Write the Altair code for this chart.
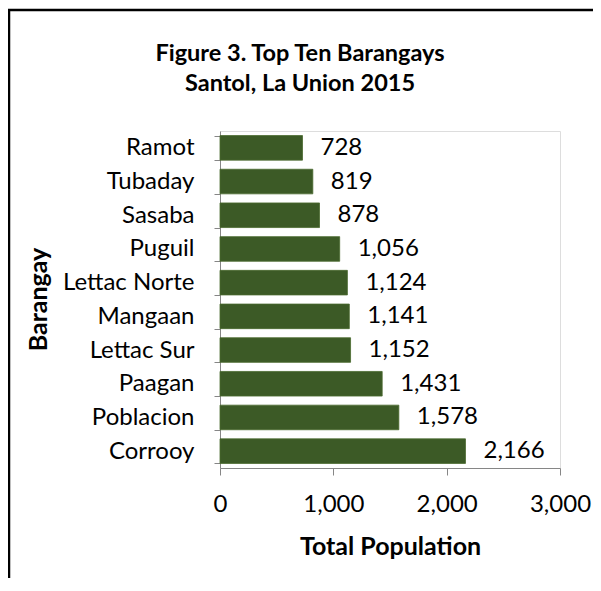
import altair as alt
import pandas as pd

barangays = ["Ramot", "Tubaday", "Sasaba", "Puguil", "Lettac Norte", "Mangaan",
             "Lettac Sur", "Paagan", "Poblacion", "Corrooy"]
population = [728, 819, 878, 1056, 1124, 1141, 1152, 1431, 1578, 2166]
x_ticks = [0, 1000, 2000, 3000]
title_lines = ["Figure 3. Top Ten Barangays", "Santol, La Union 2015"]

df = pd.DataFrame({"Barangay": barangays, "Population": population})

FONT = "Lato"
AXIS_COLOR = "#868686"
FS = 24

base = alt.Chart(df)

y_enc = alt.Y(
    "Barangay:N",
    sort=barangays,
    scale=alt.Scale(paddingInner=0.27, paddingOuter=0.135),
    axis=alt.Axis(
        title="Barangay",
        titleFont=FONT,
        titleFontSize=25,
        titleFontWeight="bold",
        titleColor="black",
        titleAngle=-90,
        titleX=-182,
        titleY=168,
        titleAlign="center",
        titleBaseline="middle",
        labelFont=FONT,
        labelFontSize=FS,
        labelColor="black",
        labelPadding=20,
        tickBand="extent",
        tickSize=6,
        tickColor=AXIS_COLOR,
        domainColor=AXIS_COLOR,
    ),
)

x_enc = alt.X(
    "Population:Q",
    scale=alt.Scale(domain=[0, 3000], nice=False),
    axis=alt.Axis(
        title="Total Population",
        titleFont=FONT,
        titleFontSize=25,
        titleFontWeight="bold",
        titleColor="black",
        titleY=78,
        titleBaseline="middle",
        values=x_ticks,
        labelExpr="format(datum.value, ',')",
        labelFlush=False,
        labelFont=FONT,
        labelFontSize=FS,
        labelColor="black",
        labelPadding=17,
        tickSize=7,
        tickColor=AXIS_COLOR,
        domainColor=AXIS_COLOR,
        grid=False,
    ),
)

bars = base.mark_bar(color="#3c5a26", stroke="#4a6a2e", strokeWidth=0.8).encode(
    x=x_enc, y=y_enc
)

labels = base.mark_text(align="left", baseline="middle", dx=18, font=FONT,
                        fontSize=FS, color="black").encode(
    x=alt.X("Population:Q"),
    y=alt.Y("Barangay:N", sort=barangays),
    text=alt.Text("Population:Q", format=","),
)

border = alt.Chart(pd.DataFrame({"a": [0]})).mark_rect(
    fill=None, stroke="black", strokeWidth=2.5, clip=False
).encode(
    x=alt.value(-211), x2=alt.value(420), y=alt.value(-121), y2=alt.value(520)
)

title_df = pd.DataFrame({"t": ["\n".join(title_lines)]})
title = alt.Chart(title_df).mark_text(
    font=FONT, fontSize=23.5, fontWeight="bold", color="black",
    align="center", baseline="middle", lineBreak="\n", lineHeight=30,
).encode(
    x=alt.value(80),
    y=alt.value(-77),
    text="t:N",
)

chart = alt.layer(border, bars, labels, title).properties(
    width=340,
    height=337,
    autosize=alt.AutoSizeParams(type="none"),
    padding={"left": 212, "top": 123, "right": 33, "bottom": 110},
).configure_view(stroke="transparent", strokeWidth=0).configure(background="white")

chart.save("out.html", embed_options={"renderer": "svg", "actions": False})
